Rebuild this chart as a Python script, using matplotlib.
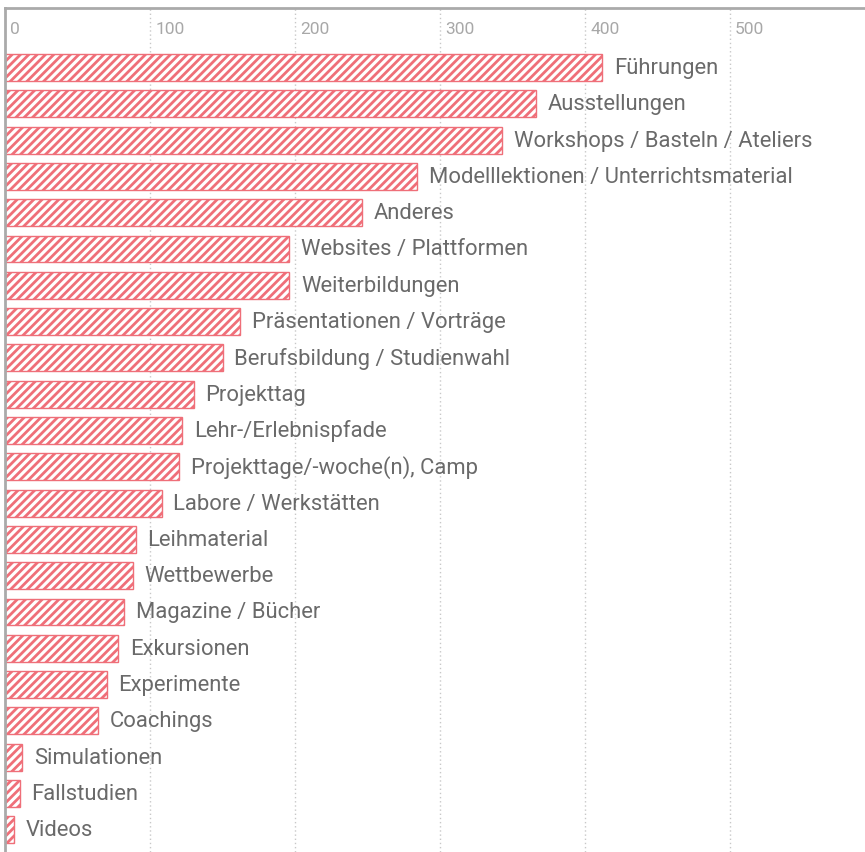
import matplotlib
matplotlib.use("Agg")
import matplotlib.pyplot as plt

categories = ["Führungen", "Ausstellungen", "Workshops / Basteln / Ateliers",
              "Modelllektionen / Unterrichtsmaterial", "Anderes", "Websites / Plattformen",
              "Weiterbildungen", "Präsentationen / Vorträge", "Berufsbildung / Studienwahl",
              "Projekttag", "Lehr-/Erlebnispfade", "Projekttage/-woche(n), Camp",
              "Labore / Werkstätten", "Leihmaterial", "Wettbewerbe", "Magazine / Bücher",
              "Exkursionen", "Experimente", "Coachings", "Simulationen", "Fallstudien", "Videos"]
values = [412, 366, 343, 284, 246, 196, 196, 162, 150, 130, 122, 120, 108, 90, 88, 82,
          78, 70, 64, 12, 10, 6]
ticks = [0, 100, 200, 300, 400, 500]

plt.rcParams['font.family'] = ['Roboto', 'DejaVu Sans']
plt.rcParams['hatch.linewidth'] = 2.0
plt.rcParams['hatch.color'] = '#e8404c'

fig = plt.figure(figsize=(8.65, 8.53), dpi=100)
W, H = 865, 853
x0 = 5
top = 9
ax = fig.add_axes([x0 / W, 0, (W - x0) / W, (H - top) / H])

pos = list(range(len(categories)))
ax.barh(pos, values, height=0.74, color='white', edgecolor='#ef6f79',
        linewidth=1.0, hatch='////', zorder=2)
for p, v, c in zip(pos, values, categories):
    ax.annotate(c, xy=(v, p), xytext=(8.5, 0), textcoords='offset points',
                va='center', ha='left', fontsize=15.8, color='#6a6a6a', zorder=3)

px_per_unit = 145 / 100
ax.set_xlim(0, (W - x0) / px_per_unit)
row = 36.3
c0 = 68.5
ax.set_ylim((H - c0) / row, (top - c0) / row)

for t in ticks:
    if t > 0:
        ax.axvline(t, color='#c8c8c8', linestyle=(0, (1, 2)), linewidth=1.0, zorder=1)
    ax.text(t + 3.5, (30 - c0) / row, str(t), ha='left', va='center', fontsize=12.5,
            color='#a8a8a8')

ax.set_xticks([])
ax.set_yticks([])
for s in ['right', 'bottom']:
    ax.spines[s].set_visible(False)
ax.spines['top'].set_color('#aaaaaa')
ax.spines['top'].set_linewidth(2.0)
ax.spines['left'].set_color('#aaaaaa')
ax.spines['left'].set_linewidth(2.0)

fig.savefig("out.png", dpi=100)
